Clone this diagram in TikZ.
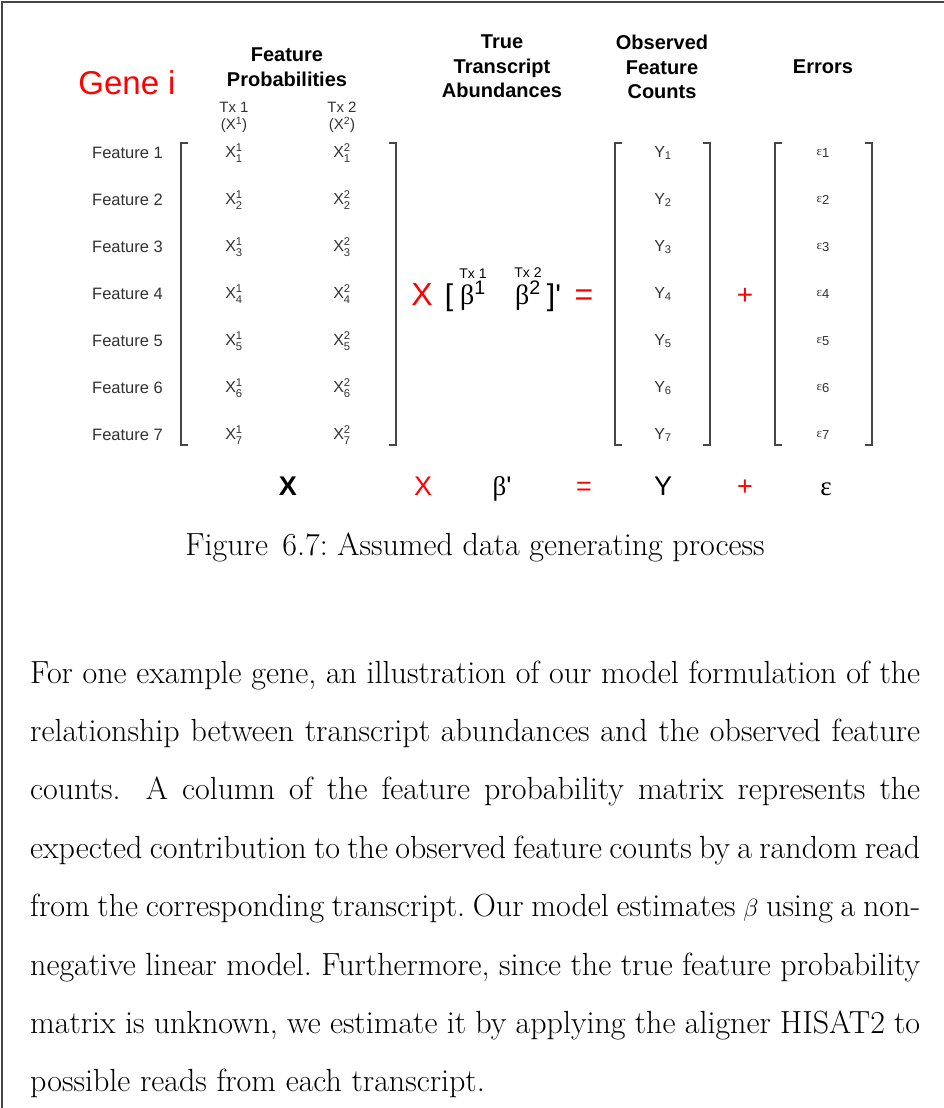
\documentclass[tikz,border=0pt]{standalone}
\usepackage{amsmath}
\usepackage{fontspec}
\newfontfamily\arialfont{Liberation Sans}
\newfontfamily\grkfont{Liberation Serif}
\usetikzlibrary{positioning}
\definecolor{genered}{RGB}{255, 0, 0}
\definecolor{entrygray}{RGB}{50, 50, 50}
\definecolor{framegray}{RGB}{70, 70, 70}

\tikzset{
  header/.style={font=\arialfont\fontsize{20}{24.5}\selectfont\bfseries, align=center, anchor=north, inner sep=0pt},
  txlabel/.style={font=\arialfont\fontsize{15}{17}\selectfont, text=entrygray, align=center, anchor=north, inner sep=0pt},
  featlabel/.style={font=\arialfont\fontsize{16.5}{18}\selectfont, text=entrygray, anchor=east, inner sep=0pt},
  entry/.style={font=\arialfont\fontsize{16}{18}\selectfont, text=entrygray, inner sep=0pt},
  errentry/.style={font=\arialfont\fontsize{13}{15}\selectfont, text=entrygray, inner sep=0pt},
  bracketline/.style={framegray, line width=1.6pt},
  redop/.style={font=\arialfont\fontsize{32}{36}\selectfont, text=genered, anchor=base, inner sep=0pt},
  bottomsym/.style={font=\arialfont\fontsize{27}{30}\selectfont, anchor=base, inner sep=0pt},
  bodyline/.style={font=\fontsize{32}{38}\selectfont, anchor=base west, inner sep=0pt},
}

\begin{document}
\frenchspacing
\begin{tikzpicture}[x=1pt, y=-1pt]
    % Dimensions
    \def\rowtop{153}  % first matrix row
    \def\rowgap{47}   % distance between rows
    \def\mtop{143}    % top of the brackets
    \def\mbot{445}    % bottom of the brackets
    \def\serif{7}     % length of the bracket ends

    \useasboundingbox (0,0) rectangle (944,1108);

    % 1. Page frame
    \draw[framegray, line width=1.5pt] (944,2) -- (2,2) -- (2,1108);

    % 2. Title and column headers
    \node[font=\arialfont\fontsize{33}{36}\selectfont, text=genered, anchor=base, inner sep=0pt] (gene) at (127,95) {Gene i};
    \node[header] (hprob) at (287,48) {Feature\\Probabilities};
    \node[header] (htrue) at (502,35) {True\\Transcript\\Abundances};
    \node[header] (hobs) at (662,35) {Observed\\Feature\\Counts};
    \node[header] (herr) at (823,60) {Errors};

    \node[txlabel] (tx1) at (234,102) {Tx 1\\(X\textsuperscript{1})};
    \node[txlabel] (tx2) at (342,102) {Tx 2\\(X\textsuperscript{2})};

    % 3. Rows of the matrices
    \foreach \i in {1,...,7}{
        \pgfmathsetmacro\yy{\rowtop+\rowgap*(\i-1)}
        \node[featlabel] (feat\i) at (163,\yy) {Feature \i};
        \node[entry] (xa\i) at (234,\yy) {X$^{\text{1}}_{\text{\i}}$};
        \node[entry] (xb\i) at (342,\yy) {X$^{\text{2}}_{\text{\i}}$};
        \node[entry] (y\i) at (663,\yy) {Y$_{\text{\i}}$};
        \node[errentry] (e\i) at (823,\yy) {{\grkfont ε}\raisebox{-2pt}{\i}};
    }

    % 4. Brackets
    \draw[bracketline] (181+\serif,\mtop) -- (181,\mtop) -- (181,\mbot) -- (181+\serif,\mbot);
    \draw[bracketline] (396-\serif,\mtop) -- (396,\mtop) -- (396,\mbot) -- (396-\serif,\mbot);
    \draw[bracketline] (615+\serif,\mtop) -- (615,\mtop) -- (615,\mbot) -- (615+\serif,\mbot);
    \draw[bracketline] (710-\serif,\mtop) -- (710,\mtop) -- (710,\mbot) -- (710-\serif,\mbot);
    \draw[bracketline] (775+\serif,\mtop) -- (775,\mtop) -- (775,\mbot) -- (775+\serif,\mbot);
    \draw[bracketline] (872-\serif,\mtop) -- (872,\mtop) -- (872,\mbot) -- (872-\serif,\mbot);

    % 5. Abundance vector between the matrices
    \node[redop] (times) at (422,305) {X};
    \node[font=\arialfont\fontsize{30}{34}\selectfont, anchor=base, inner sep=0pt] (lbr) at (449,305) {[};
    \node[font=\grkfont\fontsize{28}{30}\selectfont, anchor=base, inner sep=0pt] (b1) at (473,304) {β\textsuperscript{\arialfont 1}};
    \node[font=\grkfont\fontsize{28}{30}\selectfont, anchor=base, inner sep=0pt] (b2) at (528,304) {β\textsuperscript{\arialfont 2}};
    \node[font=\arialfont\fontsize{14}{16}\selectfont, inner sep=0pt, above=3pt of b1] (btx1) {Tx 1};
    \node[font=\arialfont\fontsize{14}{16}\selectfont, inner sep=0pt, above=3pt of b2] (btx2) {Tx 2};
    \node[font=\arialfont\fontsize{30}{34}\selectfont, anchor=base, inner sep=0pt] (rbr) at (554,305) {]\textquotesingle};
    \node[redop] (eq) at (584,305) {=};
    \node[redop, font=\arialfont\fontsize{28}{30}\selectfont] (plus) at (745,304) {+};

    % 6. Compact form of the model
    \node[bottomsym, font=\arialfont\fontsize{27}{30}\selectfont\bfseries] (bX) at (288,495) {X};
    \node[bottomsym, text=genered] (btimes) at (423,495) {X};
    \node[bottomsym] (bbeta) at (502,495) {{\grkfont β}\textquotesingle};
    \node[bottomsym, text=genered] (beq) at (584,495) {=};
    \node[bottomsym] (bY) at (663,495) {Y};
    \node[bottomsym, text=genered] (bplus) at (745,495) {+};
    \node[bottomsym, font=\grkfont\fontsize{27}{30}\selectfont] (beps) at (826,495) {ε};

    % 7. Caption and text
    \node[font=\fontsize{32}{38}\selectfont, anchor=base, inner sep=0pt] (caption) at (475,555) {Figure\hspace{0.45em}6.7: Assumed data generating process};

    \node[bodyline] (body1) at (30,683) {\makebox[890pt][s]{For one example gene, an illustration of our model formulation of the}};
    \node[bodyline] (body2) at (30,741.4) {\makebox[890pt][s]{relationship between transcript abundances and the observed feature}};
    \node[bodyline] (body3) at (30,799.8) {\makebox[890pt][s]{counts.\hspace{0.35em} A column of the feature probability matrix represents the}};
    \node[bodyline] (body4) at (30,858.2) {\makebox[890pt][s]{expected contribution to the observed feature counts by a random read}};
    \node[bodyline] (body5) at (30,916.6) {\makebox[890pt][s]{from the corresponding transcript. Our model estimates $\beta$ using a non-}};
    \node[bodyline] (body6) at (30,975) {\makebox[890pt][s]{negative linear model. Furthermore, since the true feature probability}};
    \node[bodyline] (body7) at (30,1033.4) {\makebox[890pt][s]{matrix is unknown, we estimate it by applying the aligner HISAT2 to}};
    \node[bodyline] (body8) at (30,1091.8) {possible reads from each transcript.};
\end{tikzpicture}
\end{document}
